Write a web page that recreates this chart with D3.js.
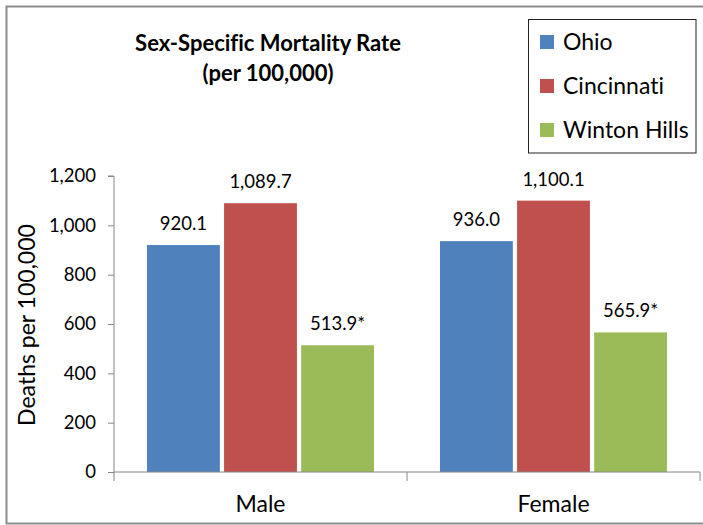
<!DOCTYPE html>
<html>
<head>
<meta charset="utf-8">
<script src="https://cdn.jsdelivr.net/npm/d3@7"></script>
<style>
  body { margin: 0; background: #fff; }
  svg text { font-family: Lato, "Noto Sans", sans-serif; fill: #000; font-variant-ligatures: none; }
</style>
</head>
<body>
<div id="chart"></div>
<script>
// data
const categories = ['Male', 'Female'];
const seriesNames = ['Ohio', 'Cincinnati', 'Winton Hills'];
const ohio = [920.1, 936.0];
const cincinnati = [1089.7, 1100.1];
const wintonHills = [513.9, 565.9];
const valueLabels = [
  ['920.1', '936.0'],
  ['1,089.7', '1,100.1'],
  ['513.9*', '565.9*']
];
const yTicks = [0, 200, 400, 600, 800, 1000, 1200];
const colors = ['#4F81BD', '#C0504D', '#9BBB59'];

const seriesValues = [ohio, cincinnati, wintonHills];

// layout
const fullWidth = 703;
const fullHeight = 525;
const plot = { left: 114, right: 700, top: 176, bottom: 472 };

const svg = d3.select('#chart').append('svg')
  .attr('width', fullWidth)
  .attr('height', fullHeight);

// outer chart border (right edge is cut off in the picture)
svg.append('rect')
  .attr('x', 6.5)
  .attr('y', 6.5)
  .attr('width', 720)
  .attr('height', 517)
  .attr('fill', 'none')
  .attr('stroke', '#8c8c8c')
  .attr('stroke-width', 2);

const x0 = d3.scaleBand().domain(categories).range([plot.left, plot.right]);
const x1 = d3.scaleBand().domain(seriesNames)
  .range([33, x0.bandwidth() - 33])
  .paddingInner(0.055);
const y = d3.scaleLinear().domain([0, 1200]).range([plot.bottom, plot.top]);

// bars
const rows = [];
categories.forEach((cat, i) => {
  seriesNames.forEach((s, j) => {
    rows.push({ cat, s, j, value: seriesValues[j][i], label: valueLabels[j][i] });
  });
});

const bars = svg.append('g');
bars.selectAll('rect')
  .data(rows)
  .enter().append('rect')
  .attr('x', d => x0(d.cat) + x1(d.s))
  .attr('y', d => y(d.value))
  .attr('width', x1.bandwidth())
  .attr('height', d => y(0) - y(d.value))
  .attr('fill', d => colors[d.j]);

bars.selectAll('text')
  .data(rows)
  .enter().append('text')
  .attr('x', d => x0(d.cat) + x1(d.s) + x1.bandwidth() / 2)
  .attr('y', d => y(d.value) - 15)
  .attr('text-anchor', 'middle')
  .style('font-size', '18.5px')
  .text(d => d.label);

// axes
const axisColor = '#868686';

const yAxisG = svg.append('g')
  .attr('transform', `translate(${plot.left},0)`)
  .call(d3.axisLeft(y).tickValues(yTicks).tickSize(6).tickPadding(12)
    .tickFormat(d3.format(',')));
yAxisG.select('.domain').attr('stroke', axisColor).attr('d', `M-6,${plot.top}H0V${plot.bottom}`);
yAxisG.selectAll('.tick line').attr('stroke', axisColor);
yAxisG.selectAll('.tick text')
  .style('font-size', '18.5px')
  .attr('fill', '#000');

const xAxisG = svg.append('g')
  .attr('transform', `translate(0,${plot.bottom})`);
xAxisG.append('line')
  .attr('x1', plot.left).attr('x2', plot.right)
  .attr('stroke', axisColor);
xAxisG.selectAll('.sep')
  .data([plot.left, ...categories.map(c => x0(c) + x0.bandwidth())])
  .enter().append('line')
  .attr('class', 'sep')
  .attr('x1', d => d).attr('x2', d => d)
  .attr('y1', 0).attr('y2', 9)
  .attr('stroke', axisColor);
xAxisG.selectAll('.cat')
  .data(categories)
  .enter().append('text')
  .attr('class', 'cat')
  .attr('x', d => x0(d) + x0.bandwidth() / 2)
  .attr('y', 40)
  .attr('text-anchor', 'middle')
  .style('font-size', '23px')
  .text(d => d);

// y axis title
svg.append('text')
  .attr('transform', 'translate(35,325) rotate(-90)')
  .attr('text-anchor', 'middle')
  .style('font-size', '23px')
  .text('Deaths per 100,000');

// title
const title = svg.append('text')
  .attr('x', 268)
  .attr('y', 51)
  .attr('text-anchor', 'middle')
  .style('font-size', '22px')
  .style('font-weight', 'bold');
title.append('tspan').attr('x', 268).text('Sex-Specific Mortality Rate');
title.append('tspan').attr('x', 268).attr('dy', 30).text('(per 100,000)');

// legend
const legend = svg.append('g');
legend.append('rect')
  .attr('x', 528.5).attr('y', 19.5)
  .attr('width', 167.5).attr('height', 133.5)
  .attr('fill', '#fff')
  .attr('stroke', '#222');
const legendItems = legend.selectAll('.item')
  .data(seriesNames)
  .enter().append('g')
  .attr('class', 'item')
  .attr('transform', (d, i) => `translate(540,${42 + i * 44})`);
legendItems.append('rect')
  .attr('x', 0).attr('y', -7)
  .attr('width', 14).attr('height', 14)
  .attr('fill', (d, i) => colors[i]);
legendItems.append('text')
  .attr('x', 23)
  .attr('dy', '0.35em')
  .style('font-size', '23px')
  .text(d => d);
</script>
</body>
</html>
